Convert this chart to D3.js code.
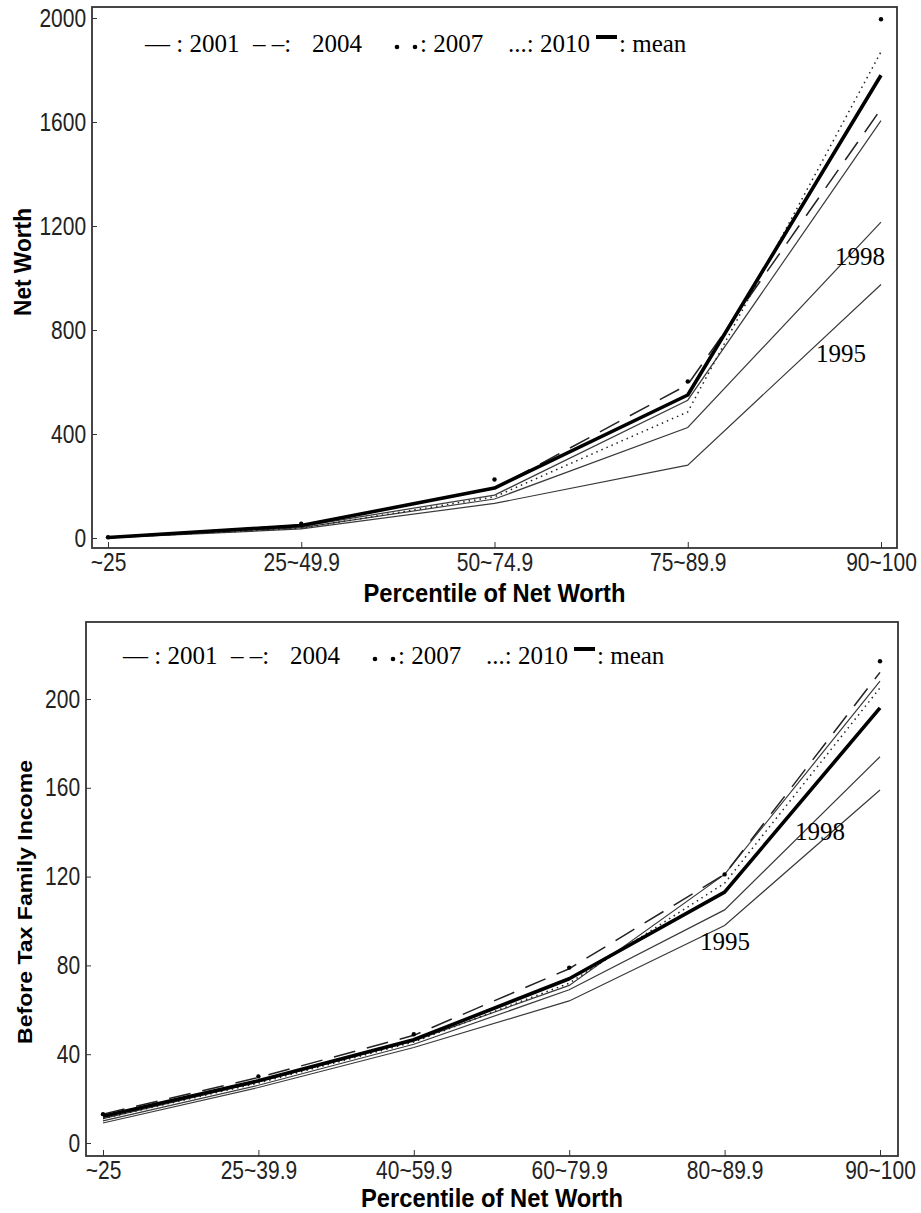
<!DOCTYPE html>
<html>
<head>
<meta charset="utf-8">
<script src="https://cdn.jsdelivr.net/npm/d3@7"></script>
<style>
  body { margin: 0; background: #fff; }
  .tick text { font-family: "Liberation Sans", Arial, sans-serif; font-size: 25px; fill: #222; }
  .axis-title { font-family: "Liberation Sans", Arial, sans-serif; font-weight: bold; fill: #000; }
  .serif { font-family: "Liberation Serif", "Times New Roman", serif; fill: #000; }
</style>
</head>
<body>
<div id="chart"></div>
<script>
// top panel: net worth by percentile
const nwCategories = ["~25", "25~49.9", "50~74.9", "75~89.9", "90~100"];
const nw1995 = [0, 35, 133, 280, 975];
const nw1998 = [1, 40, 150, 425, 1215];
const nw2001 = [2, 45, 165, 530, 1605];
const nw2004 = [3, 50, 190, 590, 1650];
const nw2007 = [3, 55, 225, 602, 1995];
const nw2010 = [1, 38, 158, 485, 1870];
const nwMean = [2, 48, 192, 550, 1780];
const nwTicks = [0, 400, 800, 1200, 1600, 2000];

// bottom panel: before tax family income by percentile
const incCategories = ["~25", "25~39.9", "40~59.9", "60~79.9", "80~89.9", "90~100"];
const inc1995 = [9, 25, 43, 64, 98, 159];
const inc1998 = [10, 26, 44.5, 69, 105, 174];
const inc2001 = [11, 27.5, 46, 71, 121, 208];
const inc2004 = [13, 29.5, 48.5, 78.5, 121, 212];
const inc2007 = [13, 30, 49, 79, 121, 217];
const inc2010 = [11, 27, 45.5, 72, 117, 205];
const incMean = [12, 28, 46.5, 74, 113, 196];
const incTicks = [0, 40, 80, 120, 160, 200];

const svg = d3.select("#chart").append("svg")
  .attr("width", 921)
  .attr("height", 1213);

function drawPanel(cfg) {
  const g = svg.append("g");

  const x = d3.scalePoint().domain(cfg.categories).range([cfg.xFirst, cfg.xLast]);
  const y = d3.scaleLinear().domain([0, cfg.yMax]).range([cfg.yZero, cfg.yTop]);

  // frame
  g.append("rect")
    .attr("x", cfg.left).attr("y", cfg.top)
    .attr("width", cfg.right - cfg.left).attr("height", cfg.bottom - cfg.top)
    .attr("fill", "none").attr("stroke", "#333").attr("stroke-width", 1.8);

  const yAxis = g.append("g")
    .attr("transform", `translate(${cfg.left},0)`)
    .call(d3.axisLeft(y).tickValues(cfg.ticks).tickFormat(d3.format("d"))
      .tickSize(-5).tickSizeOuter(0).tickPadding(7));
  yAxis.select(".domain").remove();
  yAxis.selectAll(".tick line").attr("stroke", "#333");
  yAxis.selectAll(".tick text").attr("transform", "scale(0.84,1)");

  const xAxis = g.append("g")
    .attr("transform", `translate(0,${cfg.bottom})`)
    .call(d3.axisBottom(x).tickSize(-6).tickSizeOuter(0).tickPadding(5));
  xAxis.select(".domain").remove();
  xAxis.selectAll(".tick line").attr("stroke", "#333");
  xAxis.selectAll(".tick text").attr("transform", "scale(0.84,1)");

  const line = d3.line()
    .x((d, i) => x(cfg.categories[i]))
    .y(d => y(d));

  const thin = [cfg.s1995, cfg.s1998, cfg.s2001];
  thin.forEach(s => {
    g.append("path").datum(s)
      .attr("d", line)
      .attr("fill", "none").attr("stroke", "#3a3a3a").attr("stroke-width", 1.2);
  });

  g.append("path").datum(cfg.s2004)
    .attr("d", line)
    .attr("fill", "none").attr("stroke", "#222").attr("stroke-width", 1.5)
    .attr("stroke-dasharray", "22,12");

  g.append("path").datum(cfg.s2010)
    .attr("d", line)
    .attr("fill", "none").attr("stroke", "#222").attr("stroke-width", 1.5)
    .attr("stroke-dasharray", "1.5,4");

  g.selectAll("circle.y2007")
    .data(cfg.s2007)
    .join("circle")
    .attr("class", "y2007")
    .attr("cx", (d, i) => x(cfg.categories[i]))
    .attr("cy", d => y(d))
    .attr("r", 2.2)
    .attr("fill", "#000");

  g.append("path").datum(cfg.sMean)
    .attr("d", line)
    .attr("fill", "none").attr("stroke", "#000").attr("stroke-width", 3.6)
    .attr("stroke-linejoin", "round");

  // year labels on the lines
  cfg.yearLabels.forEach(l => {
    g.append("text").attr("class", "serif")
      .attr("x", l.x).attr("y", l.y)
      .style("font-size", "25px")
      .text(l.text);
  });

  // legend
  const lg = g.append("g").attr("transform", `translate(${cfg.legendX},${cfg.legendY})`);
  const legendText = (tx, s) => lg.append("text").attr("class", "serif")
    .style("font-size", "25px").attr("x", tx).attr("y", 0).text(s);
  legendText(0, "\u2014 : 2001");
  legendText(108, "\u2013 \u2013:");
  legendText(167, "2004");
  lg.selectAll("circle").data([252, 270]).join("circle")
    .attr("cx", d => d).attr("cy", -5).attr("r", 2.3).attr("fill", "#000");
  legendText(275, ": 2007");
  legendText(363, "...: 2010");
  lg.append("rect").attr("x", 451).attr("y", -17).attr("width", 21).attr("height", 4).attr("fill", "#000");
  legendText(474, ": mean");

  // axis titles
  g.append("text").attr("class", "axis-title")
    .attr("x", (cfg.left + cfg.right) / 2 - 131).attr("y", cfg.xTitleY)
    .attr("textLength", 262).attr("lengthAdjust", "spacingAndGlyphs")
    .style("font-size", "25px")
    .text("Percentile of Net Worth");

  g.append("text").attr("class", "axis-title")
    .attr("transform", `translate(${cfg.yTitleX},${cfg.yTitleY + cfg.yTitleLen / 2}) rotate(-90)`)
    .attr("x", 0).attr("y", 0)
    .attr("textLength", cfg.yTitleLen).attr("lengthAdjust", "spacingAndGlyphs")
    .style("font-size", cfg.yTitleSize)
    .text(cfg.yTitle);
}

drawPanel({
  categories: nwCategories, ticks: nwTicks, yMax: 2000,
  s1995: nw1995, s1998: nw1998, s2001: nw2001, s2004: nw2004, s2007: nw2007, s2010: nw2010, sMean: nwMean,
  left: 92, right: 897, top: 7, bottom: 548,
  xFirst: 108, xLast: 881, yZero: 538, yTop: 18,
  legendX: 145, legendY: 52, xTitleY: 602,
  yTitle: "Net Worth", yTitleX: 31, yTitleY: 262, yTitleLen: 108, yTitleSize: "23px",
  yearLabels: [{ text: "1998", x: 835, y: 265 }, { text: "1995", x: 816, y: 362 }]
});

drawPanel({
  categories: incCategories, ticks: incTicks, yMax: 200,
  s1995: inc1995, s1998: inc1998, s2001: inc2001, s2004: inc2004, s2007: inc2007, s2010: inc2010, sMean: incMean,
  left: 86, right: 898, top: 622, bottom: 1156,
  xFirst: 103, xLast: 880, yZero: 1143, yTop: 699,
  legendX: 123, legendY: 664, xTitleY: 1207,
  yTitle: "Before Tax Family Income", yTitleX: 32, yTitleY: 902, yTitleLen: 284, yTitleSize: "21px",
  yearLabels: [{ text: "1998", x: 795, y: 840 }, { text: "1995", x: 700, y: 950 }]
});
</script>
</body>
</html>
